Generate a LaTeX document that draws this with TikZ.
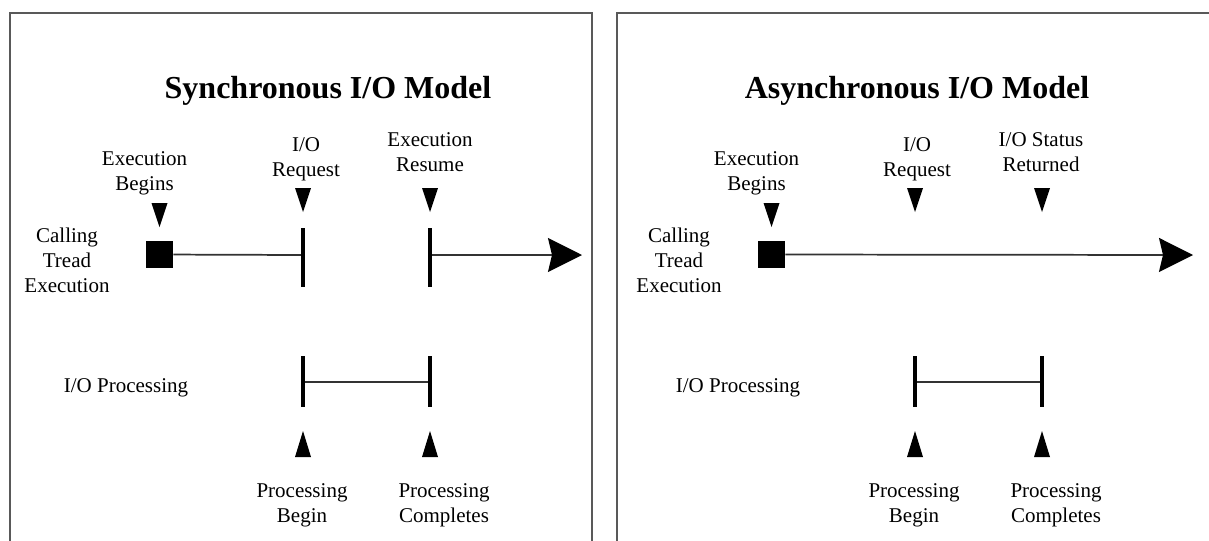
\documentclass[tikz,border=0pt]{standalone}
\usepackage{fontspec}
\setmainfont{Liberation Serif}
\usetikzlibrary{calc,positioning,arrows.meta}

% filled pointers, tip at the given coordinate
\newcommand{\downmark}[1]{\fill ($(#1)+(-8,-24)$) -- ++(16,0) -- (#1) -- cycle;}
\newcommand{\upmark}[1]{\fill ($(#1)+(-8,26)$) -- ++(16,0) -- (#1) -- cycle;}

\begin{document}
\begin{tikzpicture}[x=0.75pt,y=-0.75pt,>=Stealth]
  \tikzset{
    panel/.style={draw=black!65, line width=1.2pt},
    ttl/.style={font=\bfseries\fontsize{24}{28}\selectfont, inner sep=0pt, anchor=base},
    lbl/.style={font=\fontsize{15.75}{18.75}\selectfont, align=center, inner sep=0pt, anchor=north},
    tline/.style={draw=black!80, line width=1.3pt},
    tbar/.style={line width=3pt},
    startbox/.style={fill, minimum size=20.25pt, inner sep=0pt},
    bigtip/.style={-{Stealth[length=25.5pt,width=25.5pt,inset=3pt,color=black]}},
  }
  \useasboundingbox (0,0) rectangle (1209,540);
  \clip (0,0) rectangle (1209,540);

  % panels
  \draw[panel] (10,560) -- (10,13) -- (592,13) -- (592,560);
  \draw[panel] (617,560) -- (617,13) -- (1230,13);

  % synchronous model
  \node[ttl] (sTitle) at (328,98) {Synchronous I/O Model};
  \node[lbl] (sBegins) at (144.5,151.7) {Execution\\Begins};
  \node[lbl] (sReqLbl) at (306,137.7) {I/O\\Request};
  \node[lbl] (sResLbl) at (430,132.7) {Execution\\Resume};
  \node[lbl] (sCall) at (67,227.7) {Calling\\Tread\\Execution};
  \node[lbl,anchor=base] (sProc) at (126,392) {I/O Processing};
  \node[lbl] (sPB) at (302,483.7) {Processing\\Begin};
  \node[lbl] (sPC) at (444,483.7) {Processing\\Completes};

  \node[startbox] (sStart) at (159.5,254.5) {};
  \coordinate (sReq) at (303,255);
  \coordinate (sRes) at (430,255);
  \coordinate (sEnd) at (582,255);
  \coordinate (sPb) at (303,382);
  \coordinate (sPc) at (430,382);

  \draw[tline] (sStart) -- (sReq);
  \draw[tline,bigtip] (sRes) -- (sEnd);
  \draw[tline] (sPb) -- (sPc);
  \foreach \c in {sReq,sRes} {
    \draw[tbar] ($(\c)+(0,-27)$) -- ($(\c)+(0,32)$);
  }
  \foreach \c in {sPb,sPc} {
    \draw[tbar] ($(\c)+(0,-26)$) -- ($(\c)+(0,25)$);
  }

  \downmark{159.5,227}
  \downmark{303,212}
  \downmark{430,212}
  \upmark{303,431}
  \upmark{430,431}

  % asynchronous model
  \node[ttl] (aTitle) at (917,98) {Asynchronous I/O Model};
  \node[lbl] (aBegins) at (756.5,151.7) {Execution\\Begins};
  \node[lbl] (aReqLbl) at (917,137.7) {I/O\\Request};
  \node[lbl] (aStatLbl) at (1041,132.7) {I/O Status\\Returned};
  \node[lbl] (aCall) at (679,227.7) {Calling\\Tread\\Execution};
  \node[lbl,anchor=base] (aProc) at (738,392) {I/O Processing};
  \node[lbl] (aPB) at (914,483.7) {Processing\\Begin};
  \node[lbl] (aPC) at (1056,483.7) {Processing\\Completes};

  \node[startbox] (aStart) at (771.5,254.5) {};
  \coordinate (aEnd) at (1193,255);
  \coordinate (aPb) at (915,382);
  \coordinate (aPc) at (1042,382);

  \draw[tline,bigtip] (aStart) -- (aEnd);
  \draw[tline] (aPb) -- (aPc);
  \foreach \c in {aPb,aPc} {
    \draw[tbar] ($(\c)+(0,-26)$) -- ($(\c)+(0,25)$);
  }

  \downmark{771.5,227}
  \downmark{915,212}
  \downmark{1042,212}
  \upmark{915,431}
  \upmark{1042,431}
\end{tikzpicture}
\end{document}
